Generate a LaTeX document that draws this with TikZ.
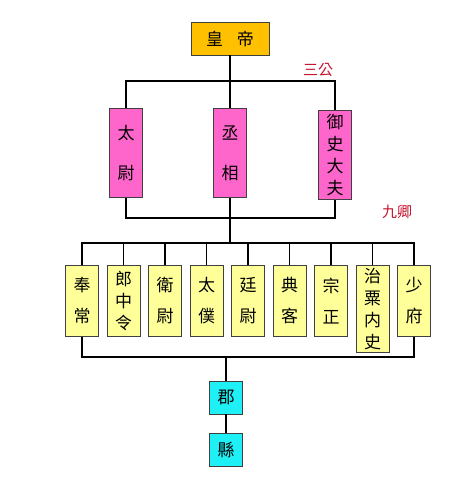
\documentclass[tikz,border=0pt]{standalone}
\usepackage{fontspec}
\usepackage{xcolor}
\newfontfamily\cjk{Noto Sans CJK TC}
\usetikzlibrary{calc}
\definecolor{gold}{RGB}{255,192,0}
\definecolor{rose}{RGB}{255,102,204}
\definecolor{cream}{RGB}{255,255,153}
\definecolor{aqua}{RGB}{30,240,245}
\definecolor{crimson}{RGB}{200,20,45}
\begin{document}
\begin{tikzpicture}
    [x=1pt, y=-1pt,
     office/.style={rectangle, draw=black!75, thick, inner sep=0pt, align=center,
                    minimum width=33pt, font=\cjk\fontsize{17}{17}\selectfont},
     link/.style={draw=black, line width=1.4pt},
     rank/.style={text=crimson, font=\cjk\fontsize{15}{15}\selectfont}]
    \useasboundingbox (0,0) rectangle (474,485);
    % emperor
    \node(emperor)[office, fill=gold, minimum width=78pt, minimum height=33pt] at (230,38.5) {皇\hspace{14pt}帝};
    % three excellencies
    \node(taiwei)[office, fill=rose, anchor=north, minimum height=89pt] at (126,108) {太\\[23pt]尉};
    \node(chengxiang)[office, fill=rose, anchor=north, minimum height=89pt] at (230,108) {丞\\[23pt]相};
    \node(yushi)[office, fill=rose, anchor=north, minimum height=89pt] at (335,110) {御\\[5pt]史\\[5pt]大\\[5pt]夫};
    \node(sangong)[rank] at (318,70) {三公};
    \node(jiuqing)[rank] at (397,212) {九卿};
    % nine ministers
    \foreach \n/\x/\h/\t in {m1/82/71/{奉\\[14pt]常},m2/123.5/71/{郎\\[5pt]中\\[5pt]令},
        m3/165/71/{衛\\[14pt]尉},m4/206.5/71/{太\\[14pt]僕},m5/248/71/{廷\\[14pt]尉},
        m6/289.5/71/{典\\[14pt]客},m7/331/71/{宗\\[14pt]正},
        m8/372.5/87/{治\\[5pt]粟\\[5pt]内\\[5pt]史},m9/414/71/{少\\[14pt]府}}{
        \node(\n)[office, fill=cream, anchor=north, minimum height=\h pt] at (\x,265) {\t};
    }
    % commandery and county
    \node(jun)[office, fill=aqua, minimum height=33pt] at (226,397.5) {郡};
    \node(xian)[office, fill=aqua, minimum height=33pt] at (226,449.5) {縣};
    % connectors
    \coordinate(sg-top) at (230,81);
    \coordinate(sg-bot) at (230,218);
    \coordinate(jq-top) at (230,243);
    \coordinate(jq-bot) at (226,357);
    \draw[link] (emperor) -- (sg-top);
    \draw[link] (taiwei) |- (sg-top) -| (yushi);
    \draw[link] (chengxiang) -- (chengxiang |- sg-top);
    \draw[link] (taiwei) |- (sg-bot) -| (yushi);
    \draw[link] (chengxiang) -- (sg-bot) -- (jq-top);
    \draw[link] (m1) |- (jq-top) -| (m9);
    \foreach \i in {2,...,8}{
        \draw[link] (m\i) -- (m\i |- jq-top);
    }
    \draw[link] (m1) |- (jq-bot) -| (m9);
    \draw[link] (jq-bot) -- (jun);
    \draw[link] (jun) -- (xian);
\end{tikzpicture}
\end{document}
